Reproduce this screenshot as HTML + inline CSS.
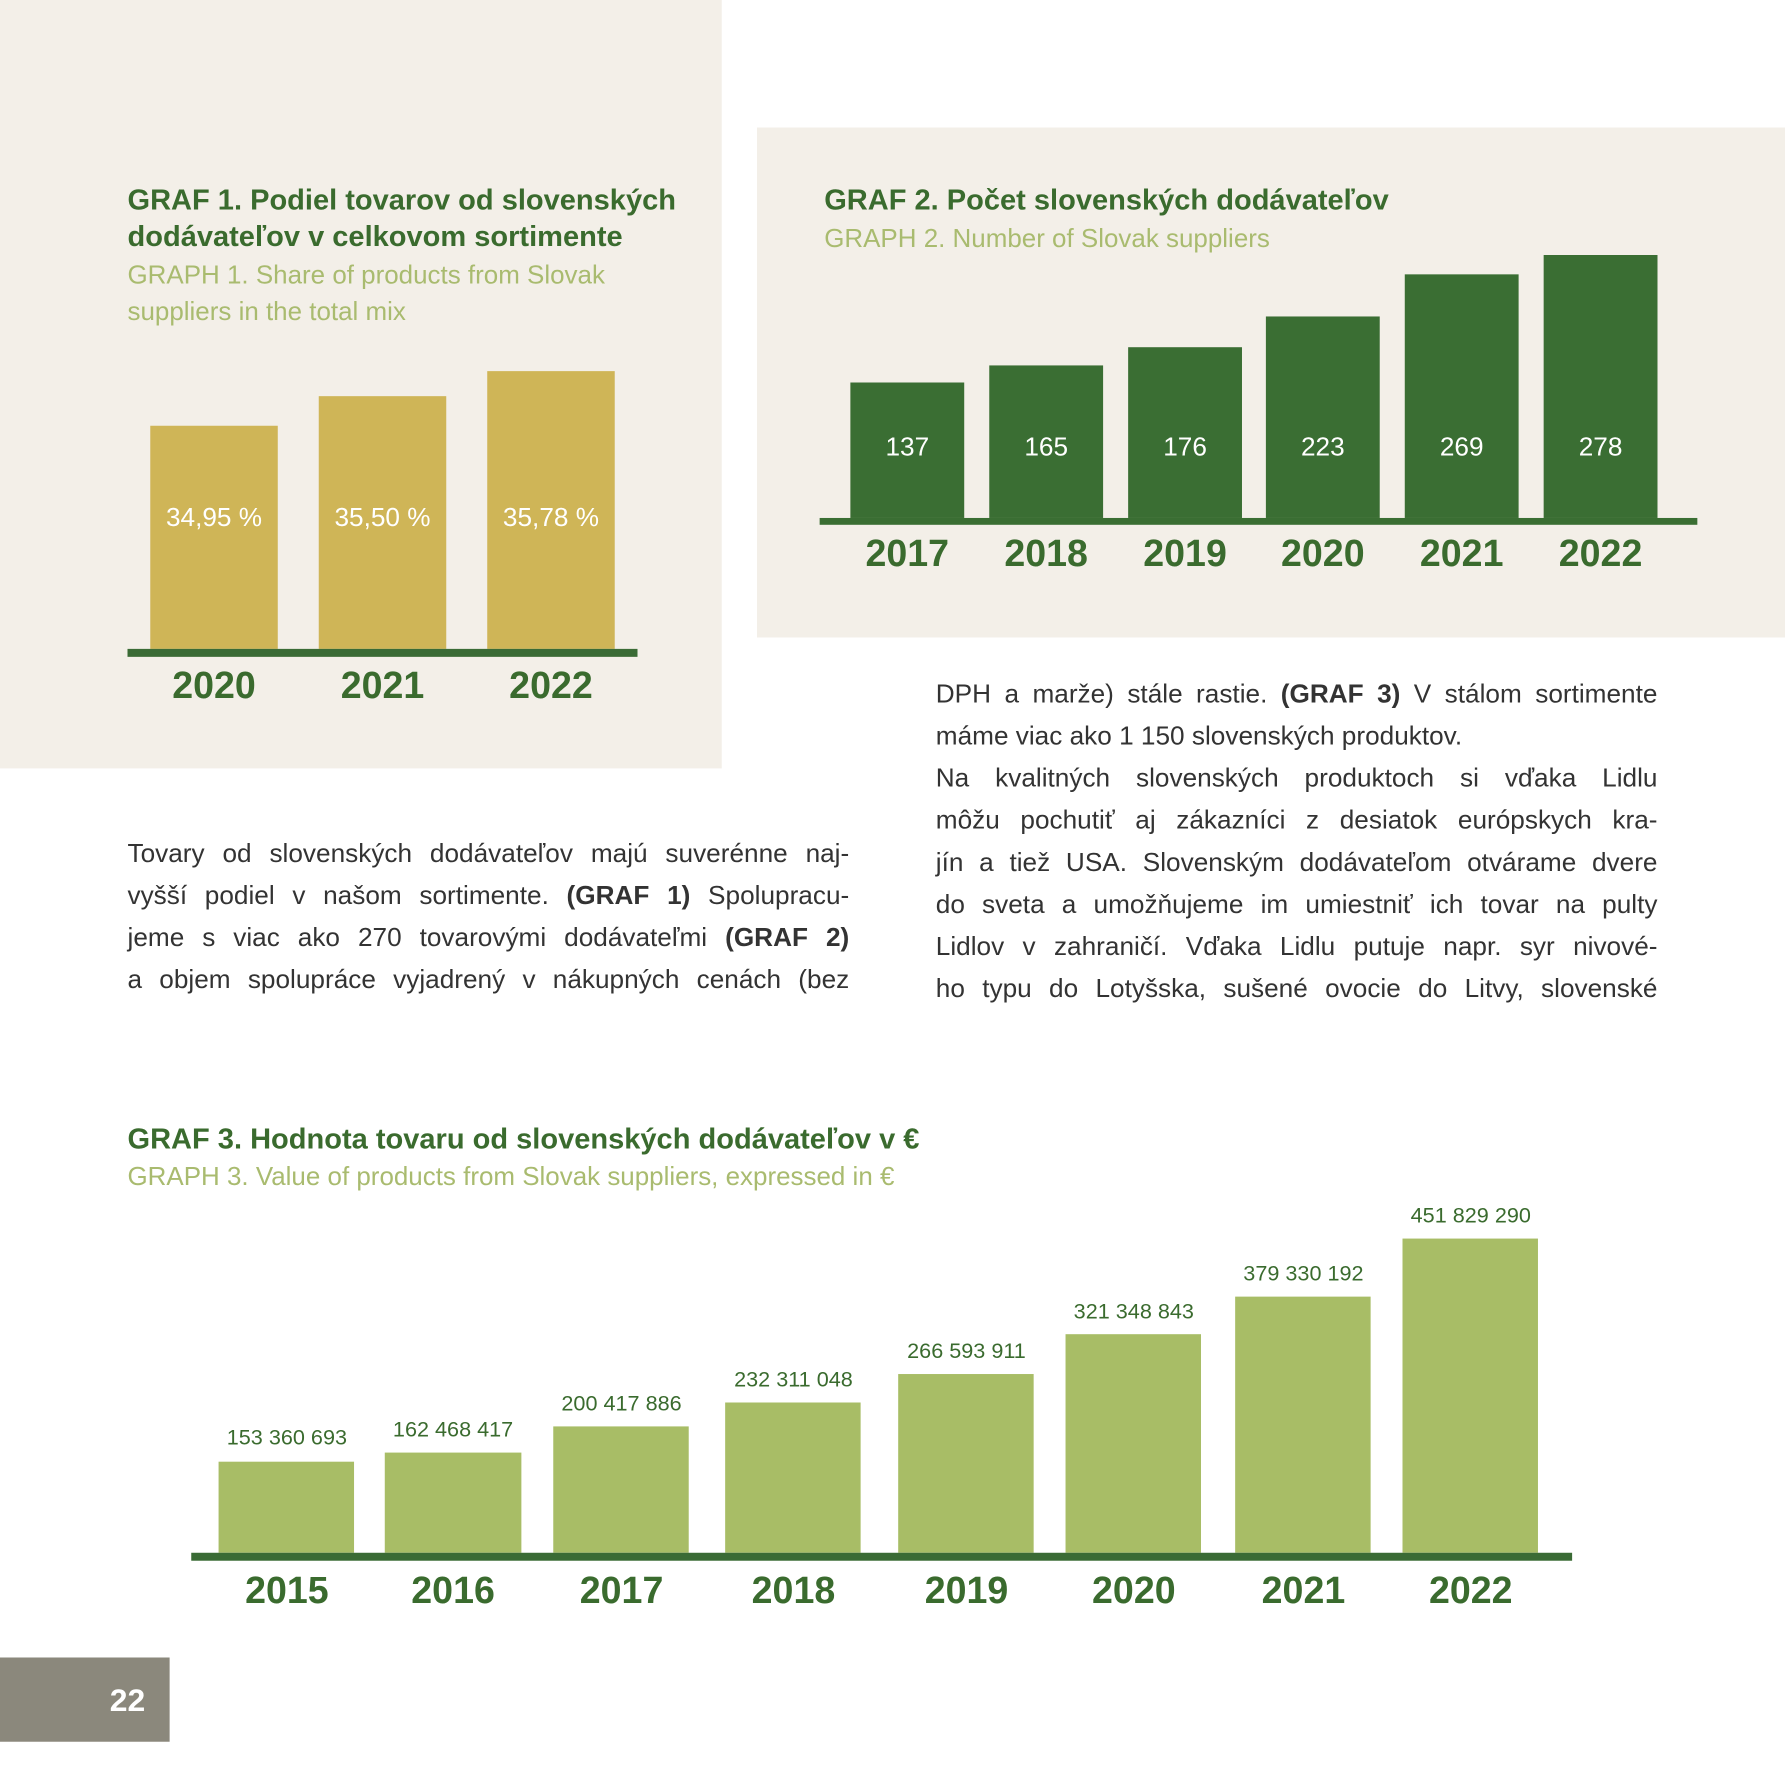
<!DOCTYPE html>
<html><head><meta charset="utf-8"><style>
html,body{margin:0;padding:0;background:#fff;}
#root{position:relative;width:1568px;height:1568px;transform:scale(1.13839);transform-origin:0 0;font-family:"Liberation Sans",sans-serif;overflow:hidden;}
.a{position:absolute;}
.bg{background:#f3efe8;}
.t{color:#3a6b2e;font-weight:bold;font-size:25.5px;line-height:32px;white-space:nowrap;}
.s{color:#a9bb6f;font-size:22.8px;line-height:32px;white-space:nowrap;}
.v{color:#fff;font-size:23px;text-align:center;line-height:30px;}
.y{color:#3a6b2e;font-weight:bold;font-size:33px;text-align:center;line-height:40px;}
.p{color:#333;font-size:23px;line-height:37px;text-align:justify;text-align-last:justify;white-space:nowrap;}
.l3{color:#3a6b2e;font-size:19px;text-align:center;line-height:24px;white-space:nowrap;}
</style></head><body><div id="root">
<div class="a bg" style="left:0;top:0;width:634px;height:675px"></div>
<div class="a bg" style="left:665px;top:112px;width:903px;height:448px"></div>

<div class="a t" style="left:112px;top:160px">GRAF 1. Podiel tovarov od slovenských<br>dodávateľov v celkovom sortimente</div>
<div class="a s" style="left:112px;top:225px">GRAPH 1. Share of products from Slovak<br>suppliers in the total mix</div>
<div class="a" style="left:132px;top:374px;width:112px;height:196px;background:#cfb557"></div>
<div class="a" style="left:280px;top:348px;width:112px;height:222px;background:#cfb557"></div>
<div class="a" style="left:428px;top:326px;width:112px;height:244px;background:#cfb557"></div>
<div class="a" style="left:112px;top:570px;width:448px;height:7px;background:#3a6b35"></div>
<div class="a v" style="left:112px;top:439px;width:152px">34,95 %</div>
<div class="a v" style="left:260px;top:439px;width:152px">35,50 %</div>
<div class="a v" style="left:408px;top:439px;width:152px">35,78 %</div>
<div class="a y" style="left:112px;top:582px;width:152px">2020</div>
<div class="a y" style="left:260px;top:582px;width:152px">2021</div>
<div class="a y" style="left:408px;top:582px;width:152px">2022</div>

<div class="a t" style="left:724px;top:160px">GRAF 2. Počet slovenských dodávateľov</div>
<div class="a s" style="left:724px;top:193px">GRAPH 2. Number of Slovak suppliers</div>
<div class="a" style="left:747px;top:336px;width:100px;height:119px;background:#3a6e33"></div>
<div class="a" style="left:869px;top:321px;width:100px;height:134px;background:#3a6e33"></div>
<div class="a" style="left:991px;top:305px;width:100px;height:150px;background:#3a6e33"></div>
<div class="a" style="left:1112px;top:278px;width:100px;height:177px;background:#3a6e33"></div>
<div class="a" style="left:1234px;top:241px;width:100px;height:214px;background:#3a6e33"></div>
<div class="a" style="left:1356px;top:224px;width:100px;height:231px;background:#3a6e33"></div>
<div class="a" style="left:720px;top:455px;width:771px;height:6px;background:#3a6e33"></div>
<div class="a v" style="left:747px;top:377px;width:100px">137</div>
<div class="a v" style="left:869px;top:377px;width:100px">165</div>
<div class="a v" style="left:991px;top:377px;width:100px">176</div>
<div class="a v" style="left:1112px;top:377px;width:100px">223</div>
<div class="a v" style="left:1234px;top:377px;width:100px">269</div>
<div class="a v" style="left:1356px;top:377px;width:100px">278</div>
<div class="a y" style="left:737px;top:466px;width:120px">2017</div>
<div class="a y" style="left:859px;top:466px;width:120px">2018</div>
<div class="a y" style="left:981px;top:466px;width:120px">2019</div>
<div class="a y" style="left:1102px;top:466px;width:120px">2020</div>
<div class="a y" style="left:1224px;top:466px;width:120px">2021</div>
<div class="a y" style="left:1346px;top:466px;width:120px">2022</div>

<div class="a" style="left:112px;top:731px;width:634px">
<div class="p">Tovary od slovenských dodávateľov majú suverénne naj-</div>
<div class="p">vyšší podiel v našom sortimente. <b>(GRAF 1)</b> Spolupracu-</div>
<div class="p">jeme s viac ako 270 tovarovými dodávateľmi <b>(GRAF 2)</b></div>
<div class="p">a objem spolupráce vyjadrený v nákupných cenách (bez</div>
</div>
<div class="a" style="left:822px;top:591px;width:634px">
<div class="p">DPH a marže) stále rastie. <b>(GRAF 3)</b> V stálom sortimente</div>
<div class="p" style="text-align:left;text-align-last:left">máme viac ako 1 150 slovenských produktov.</div>
<div class="p">Na kvalitných slovenských produktoch si vďaka Lidlu</div>
<div class="p">môžu pochutiť aj zákazníci z desiatok európskych kra-</div>
<div class="p">jín a tiež USA. Slovenským dodávateľom otvárame dvere</div>
<div class="p">do sveta a umožňujeme im umiestniť ich tovar na pulty</div>
<div class="p">Lidlov v zahraničí. Vďaka Lidlu putuje napr. syr nivové-</div>
<div class="p">ho typu do Lotyšska, sušené ovocie do Litvy, slovenské</div>
</div>

<div class="a t" style="left:112px;top:985px">GRAF 3. Hodnota tovaru od slovenských dodávateľov v €</div>
<div class="a s" style="left:112px;top:1017px">GRAPH 3. Value of products from Slovak suppliers, expressed in €</div>
<div class="a" style="left:192px;top:1284px;width:119px;height:80px;background:#a8bd66"></div>
<div class="a" style="left:338px;top:1276px;width:120px;height:88px;background:#a8bd66"></div>
<div class="a" style="left:486px;top:1253px;width:119px;height:111px;background:#a8bd66"></div>
<div class="a" style="left:637px;top:1232px;width:119px;height:132px;background:#a8bd66"></div>
<div class="a" style="left:789px;top:1207px;width:119px;height:157px;background:#a8bd66"></div>
<div class="a" style="left:936px;top:1172px;width:119px;height:192px;background:#a8bd66"></div>
<div class="a" style="left:1085px;top:1139px;width:119px;height:225px;background:#a8bd66"></div>
<div class="a" style="left:1232px;top:1088px;width:119px;height:276px;background:#a8bd66"></div>
<div class="a" style="left:168px;top:1364px;width:1213px;height:7px;background:#3a6b35"></div>
<div class="a l3" style="left:172px;top:1252px;width:160px">153 360 693</div>
<div class="a l3" style="left:318px;top:1245px;width:160px">162 468 417</div>
<div class="a l3" style="left:466px;top:1222px;width:160px">200 417 886</div>
<div class="a l3" style="left:617px;top:1201px;width:160px">232 311 048</div>
<div class="a l3" style="left:769px;top:1176px;width:160px">266 593 911</div>
<div class="a l3" style="left:916px;top:1141px;width:160px">321 348 843</div>
<div class="a l3" style="left:1065px;top:1108px;width:160px">379 330 192</div>
<div class="a l3" style="left:1212px;top:1057px;width:160px">451 829 290</div>
<div class="a y" style="left:172px;top:1377px;width:160px">2015</div>
<div class="a y" style="left:318px;top:1377px;width:160px">2016</div>
<div class="a y" style="left:466px;top:1377px;width:160px">2017</div>
<div class="a y" style="left:617px;top:1377px;width:160px">2018</div>
<div class="a y" style="left:769px;top:1377px;width:160px">2019</div>
<div class="a y" style="left:916px;top:1377px;width:160px">2020</div>
<div class="a y" style="left:1065px;top:1377px;width:160px">2021</div>
<div class="a y" style="left:1212px;top:1377px;width:160px">2022</div>

<div class="a" style="left:0;top:1456px;width:149px;height:74px;background:#8b887c"></div>
<div class="a" style="left:80px;top:1477px;width:64px;color:#fff;font-weight:bold;font-size:28px;line-height:34px;text-align:center">22</div>
</div></body></html>
